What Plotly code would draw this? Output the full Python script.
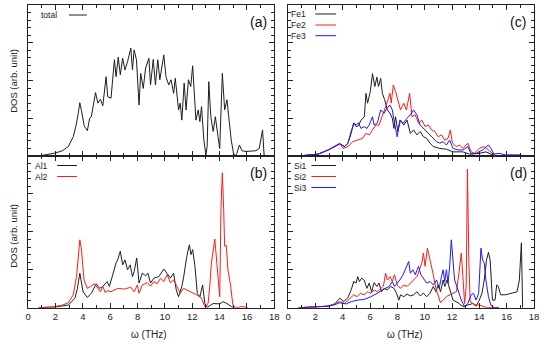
import plotly.graph_objects as go

# ---------------- data (frequency in THz, DOS in arb. units) ----------------
tot_x = [0.77, 1.5, 2.0, 2.5, 2.94, 3.3, 3.5, 3.65, 3.78, 3.9, 4.1, 4.33, 4.5, 4.62, 4.93, 5.10, 5.29, 5.46,
         5.70, 5.82, 6.06, 6.31, 6.43, 6.59, 6.74, 6.91, 7.08, 7.27, 7.51, 7.63, 7.75, 7.92, 8.11, 8.23, 8.42,
         8.59, 8.83, 8.95, 9.15, 9.31, 9.48, 9.63, 9.80, 9.92, 10.08, 10.28, 10.45, 10.64, 10.76, 11.0, 11.12,
         11.24, 11.41, 11.55, 11.72, 11.89, 12.03, 12.13, 12.27, 12.44, 12.56, 12.68, 12.85, 13.0, 13.09, 13.21,
         13.36, 13.53, 13.69, 13.89, 14.01, 14.2, 14.37, 14.54, 14.68, 14.85, 15.02, 15.16, 15.26, 15.45, 15.64,
         15.93, 16.66, 16.9, 17.14, 17.26]
tot_y = [0.0, 0.04, 0.08, 0.14, 0.25, 0.51, 0.8, 1.1, 1.41, 1.2, 0.8, 0.67, 1.0, 1.04, 1.68, 1.40, 1.50, 1.33,
         2.10, 1.57, 1.53, 2.55, 2.10, 2.62, 2.15, 2.59, 2.28, 2.50, 2.86, 2.28, 2.81, 2.55, 1.35, 2.19, 1.79,
         2.33, 2.59, 1.88, 2.56, 1.88, 2.55, 2.02, 2.39, 2.68, 2.10, 1.88, 2.02, 1.66, 2.06, 1.22, 1.40,
         0.95, 1.93, 1.22, 2.02, 1.84, 2.39, 1.84, 0.95, 1.22, 0.91, 1.31, 0.42, 0.03, 0.25, 1.97,
         1.04, 0.65, 1.04, 0.50, 0.20, 2.19, 1.22, 1.49, 1.04, 0.42, 0.07, 0.0, 0.07, 0.29, 0.14,
         0.12, 0.14, 0.2, 0.69, 0.0]

al1_x = [0.77, 2.0, 2.94, 3.42, 3.6, 3.78, 4.02, 4.33, 4.62, 4.98, 5.22, 5.46, 5.78, 5.94, 6.19, 6.43, 6.55, 6.74,
         6.91, 7.08, 7.27, 7.46, 7.63, 7.75, 7.94, 8.11, 8.35, 8.59, 8.76, 8.95, 9.2, 9.56, 9.92, 10.16, 10.4,
         10.64, 10.83, 11.0, 11.24, 11.36, 11.6, 11.79, 11.91, 12.03, 12.2, 12.37, 12.56, 12.76, 12.92, 13.09,
         13.53, 14.01, 14.25, 14.54, 14.85, 15.09]
al1_y = [0.0, 0.02, 0.07, 0.25, 0.5, 0.91, 0.42, 0.27, 0.38, 0.63, 0.51, 0.56, 0.69, 0.56, 0.87, 1.18, 1.26, 1.49,
         1.13, 1.26, 1.0, 1.13, 0.82, 0.95, 1.31, 0.65, 0.91, 0.84, 0.91, 0.65, 0.78, 0.82, 1.02, 0.91, 0.78,
         0.91, 0.47, 0.29, 0.56, 0.78, 1.35, 1.66, 1.4, 1.53, 1.09, 0.38, 0.29, 0.6, 0.11, 0.01,
         0.11, 0.1, 0.16, 0.11, 0.03, 0.0]

al2_x = [0.77, 1.73, 2.46, 2.94, 3.30, 3.54, 3.78, 3.9, 4.09, 4.33, 4.57, 4.86, 5.1, 5.29, 5.46, 5.63, 5.82, 6.06,
         6.55, 7.03, 7.51, 7.75, 7.99, 8.11, 8.35, 8.71, 8.95, 9.2, 9.44, 9.68, 9.92, 10.16, 10.4, 10.64, 10.88,
         11.12, 11.36, 11.6, 11.96, 12.32, 12.68, 12.92, 13.04, 13.16, 13.28, 13.4, 13.65, 13.77, 13.89, 14.01,
         14.1, 14.2, 14.3, 14.37, 14.49, 14.61, 14.8, 14.97, 15.21, 15.69, 16.05]
al2_y = [0.0, 0.02, 0.06, 0.13, 0.34, 0.82, 1.79, 1.53, 0.73, 0.51, 0.56, 0.63, 0.51, 0.42, 0.57, 0.40, 0.45, 0.42,
         0.51, 0.49, 0.54, 0.42, 0.6, 0.38, 0.6, 0.66, 0.57, 0.69, 0.63, 0.78, 0.69, 0.87, 0.66, 0.73, 0.56,
         0.38, 0.51, 0.47, 0.42, 0.34, 0.25, 0.03, 0.05, 0.12, 0.56, 1.18, 1.81, 1.35, 0.91, 0.29,
         2.59, 3.56, 2.59, 1.62, 1.64, 1.0, 0.6, 0.07, 0.0, 0.03, 0.0]

fe1_x = [0.77, 2.21, 2.94, 3.78, 4.14, 4.38, 4.62, 4.81, 4.98, 5.15, 5.34, 5.58, 5.7, 5.82, 6.02, 6.18, 6.35, 6.5,
         6.62, 6.78, 6.9, 7.07, 7.27, 7.46, 7.63, 7.75, 7.87, 8.03, 8.23, 8.47, 8.71, 8.95, 9.19, 9.43, 9.67,
         9.91, 10.15, 10.39, 10.63, 11.11, 11.59, 12.07, 12.8, 13.28, 14.0, 14.48, 14.96, 15.44, 17.1]
fe1_y = [0.0, 0.05, 0.16, 0.32, 0.25, 0.34, 0.65, 0.87, 0.78, 0.8, 0.95, 1.04, 1.66, 1.4, 1.71, 2.18, 1.84, 2.09,
         1.84, 2.06, 1.66, 1.49, 1.22, 1.13, 1.0, 0.73, 1.04, 0.65, 0.95, 0.82, 0.95, 0.6, 0.69, 0.56, 0.65,
         0.51, 0.47, 0.34, 0.25, 0.2, 0.18, 0.11, 0.11, 0.05, 0.07, 0.11, 0.03, 0.0, 0.0]

fe2_x = [0.77, 2.21, 2.94, 3.78, 4.02, 4.38, 4.74, 5.1, 5.46, 5.7, 5.94, 6.18, 6.42, 6.66, 6.9, 7.14, 7.31, 7.46,
         7.55, 7.7, 7.87, 8.03, 8.23, 8.47, 8.66, 8.9, 9.07, 9.31, 9.55, 9.79, 10.03, 10.27, 10.51, 10.75, 10.99,
         11.23, 11.47, 11.71, 11.88, 12.03, 12.32, 12.56, 12.8, 13.16, 13.4, 13.64, 14.0, 14.36, 14.67, 14.96,
         15.2]
fe2_y = [0.0, 0.05, 0.16, 0.34, 0.2, 0.25, 0.38, 0.42, 0.47, 0.6, 0.56, 0.69, 0.82, 0.82, 1.04, 1.31, 1.49, 1.66,
         1.4, 1.88, 1.71, 1.49, 1.22, 1.4, 1.22, 1.66, 1.04, 1.09, 0.87, 0.95, 0.78, 0.82, 0.69, 0.65, 0.51,
         0.56, 0.42, 0.47, 0.69, 0.34, 0.25, 0.29, 0.2, 0.34, 0.11, 0.07, 0.2, 0.25, 0.16, 0.05,
         0.0]

fe3_x = [0.77, 2.21, 2.94, 3.78, 4.14, 4.38, 4.62, 4.81, 4.98, 5.15, 5.34, 5.58, 5.77, 5.94, 6.18, 6.3, 6.54, 6.78,
         7.02, 7.22, 7.46, 7.63, 7.79, 7.99, 8.18, 8.42, 8.71, 8.95, 9.19, 9.43, 9.67, 9.91, 10.15, 10.39, 10.63,
         10.87, 11.11, 11.35, 11.59, 11.83, 12.07, 12.44, 12.8, 13.16, 13.4, 13.76, 14.24, 14.67, 14.84, 15.08,
         15.44, 15.92, 17.1]
fe3_y = [0.0, 0.05, 0.16, 0.32, 0.25, 0.34, 0.6, 0.88, 0.82, 0.88, 0.73, 0.78, 0.73, 0.82, 1.04, 0.82, 0.88, 1.22,
         1.13, 1.26, 1.35, 1.22, 0.87, 0.51, 0.95, 0.87, 1.0, 1.09, 1.22, 1.09, 0.82, 0.73, 0.65, 0.56, 0.47,
         0.38, 0.34, 0.38, 0.29, 0.42, 0.2, 0.16, 0.16, 0.25, 0.05, 0.07, 0.16, 0.29, 0.2, 0.05,
         0.07, 0.03, 0.03]

si1_x = [0.77, 2.0, 2.94, 3.42, 3.78, 4.09, 4.38, 4.62, 4.81, 4.98, 5.1, 5.22, 5.39, 5.58, 5.77, 5.94, 6.11, 6.3,
         6.5, 6.66, 6.83, 7.02, 7.27, 7.51, 7.75, 7.94, 8.11, 8.23, 8.47, 8.71, 8.95, 9.19, 9.43, 9.67, 9.91,
         10.15, 10.39, 10.63, 10.82, 10.99, 11.16, 11.35, 11.47, 11.64, 11.83, 12.07, 12.44, 12.8, 13.16, 13.52,
         13.76, 14.0, 14.19, 14.36, 14.53, 14.67, 14.79, 14.96, 15.15, 15.27, 15.39, 15.56, 15.92, 16.4, 16.76,
         16.93, 17.08, 17.17]
si1_y = [0.0, 0.02, 0.04, 0.1, 0.25, 0.16, 0.27, 0.47, 0.69, 0.65, 0.82, 0.69, 0.78, 0.72, 0.51, 0.65, 0.42, 0.66,
         0.56, 0.65, 0.42, 0.51, 0.47, 0.56, 0.51, 0.38, 0.2, 0.34, 0.29, 0.36, 0.31, 0.34, 0.42, 0.31, 0.38,
         0.29, 0.38, 0.56, 0.42, 0.6, 0.42, 0.73, 0.56, 0.73, 0.47, 0.2, 0.13, 0.03, 0.07, 0.11,
         0.04, 0.2, 0.38, 0.73, 1.26, 1.46, 1.26, 0.2, 0.2, 0.6, 0.56, 0.34, 0.34, 0.38, 0.42,
         0.73, 1.71, 0.0]

si2_x = [0.77, 2.0, 2.94, 3.42, 3.78, 4.14, 4.5, 4.81, 5.05, 5.29, 5.58, 5.82, 6.06, 6.3, 6.54, 6.78, 6.98, 7.14,
         7.27, 7.46, 7.63, 7.79, 7.99, 8.23, 8.47, 8.71, 8.95, 9.19, 9.43, 9.62, 9.79, 9.91, 10.03, 10.2, 10.34,
         10.51, 10.63, 10.82, 10.99, 11.16, 11.35, 11.59, 11.83, 12.07, 12.32, 12.51, 12.68, 12.8, 12.92, 13.04,
         13.13, 13.23, 13.33, 13.52, 13.76, 14.0, 14.24, 14.48, 15.44]
si2_y = [0.0, 0.02, 0.04, 0.1, 0.16, 0.11, 0.22, 0.34, 0.29, 0.38, 0.34, 0.42, 0.38, 0.47, 0.42, 0.51, 0.57, 0.91,
         0.73, 0.82, 0.69, 0.87, 0.6, 0.51, 0.6, 0.56, 0.65, 0.73, 0.82, 1.0, 1.18, 1.44, 1.09, 1.57, 1.35,
         1.09, 0.87, 0.51, 0.29, 0.13, 0.2, 0.29, 0.34, 0.38, 0.42, 0.91, 1.44, 0.82, 0.11, 0.56,
         3.65, 1.26, 0.16, 0.11, 0.07, 0.07, 0.03, 0.01, 0.0]

si3_x = [0.77, 2.0, 2.94, 3.42, 3.78, 4.26, 4.62, 5.1, 5.58, 6.06, 6.54, 6.9, 7.14, 7.39, 7.63, 7.79, 7.99, 8.18,
         8.42, 8.66, 8.83, 8.95, 9.14, 9.31, 9.55, 9.72, 9.91, 10.15, 10.39, 10.63, 10.87, 11.06, 11.23, 11.35,
         11.47, 11.59, 11.71, 11.83, 11.95, 12.07, 12.19, 12.32, 12.51, 12.68, 12.92, 13.16, 13.4, 13.57, 13.76,
         13.95, 14.12, 14.24, 14.36, 14.48, 14.67, 14.84, 15.08, 15.44]
si3_y = [0.0, 0.02, 0.04, 0.08, 0.13, 0.1, 0.16, 0.2, 0.22, 0.29, 0.38, 0.47, 0.51, 0.56, 0.69, 0.56, 0.65, 0.73,
         0.87, 1.09, 1.22, 0.91, 1.0, 0.87, 1.09, 0.87, 0.78, 0.65, 0.69, 0.6, 0.73, 0.51, 0.82, 1.0,
         0.69, 1.0, 0.65, 1.09, 1.79, 1.26, 0.73, 0.6, 0.38, 0.2, 0.03, 0.11, 0.34, 0.38, 0.2,
         0.38, 1.57, 1.26, 1.18, 0.73, 0.29, 0.07, 0.0, 0.0]

x_ticks = [0, 2, 4, 6, 8, 10, 12, 14, 16, 18]
panel_labels = ["(a)", "(b)", "(c)", "(d)"]

# ---------------- figure ----------------
W, H = 550, 346
BLACK, RED, BLUE = "#1e1e1e", "#ff1a1a", "#1a1aff"
FONT = "Liberation Sans, Arial, sans-serif"

def px(xp):
    return xp / W

def py(yp):
    return 1 - yp / H

xdom_l = [px(25.5), px(275.3)]
xdom_r = [px(289.3), px(538.8)]
ydom_t = [py(156), py(5)]
ydom_b = [py(307.7), py(156)]

fig = go.Figure()

series = [
    (tot_x, tot_y, BLACK, "x", "y"),
    (fe1_x, fe1_y, BLACK, "x2", "y2"),
    (fe2_x, fe2_y, RED, "x2", "y2"),
    (fe3_x, fe3_y, BLUE, "x2", "y2"),
    (al1_x, al1_y, BLACK, "x3", "y3"),
    (al2_x, al2_y, RED, "x3", "y3"),
    (si1_x, si1_y, BLACK, "x4", "y4"),
    (si2_x, si2_y, RED, "x4", "y4"),
    (si3_x, si3_y, BLUE, "x4", "y4"),
]
for xs, ys, col, xa, ya in series:
    fig.add_trace(go.Scatter(x=xs, y=ys, mode="lines", line=dict(color=col, width=1),
                             xaxis=xa, yaxis=ya, showlegend=False, hoverinfo="skip"))

def xaxis(dom, anchor, labels):
    return dict(domain=dom, anchor=anchor, range=[0, 18], tickvals=x_ticks,
                showticklabels=labels, ticks="inside", ticklen=5, tickwidth=1, tickcolor="#222",
                minor=dict(dtick=1, tick0=0, ticks="inside", ticklen=3, tickcolor="#222"),
                showline=True, linecolor="#222", linewidth=1, mirror="ticks",
                showgrid=False, zeroline=False,
                tickfont=dict(family=FONT, size=9.5, color="#222"))

def yaxis(dom, anchor):
    return dict(domain=dom, anchor=anchor, range=[0, 4], dtick=1, tick0=0,
                showticklabels=False, ticks="inside", ticklen=5, tickwidth=1, tickcolor="#222",
                minor=dict(dtick=0.2, tick0=0, ticks="inside", ticklen=3, tickcolor="#222"),
                showline=True, linecolor="#222", linewidth=1, mirror="ticks",
                showgrid=False, zeroline=False)

fig.update_layout(
    width=W, height=H, margin=dict(l=0, r=0, t=0, b=0),
    paper_bgcolor="white", plot_bgcolor="white",
    font=dict(family=FONT, color="#222"),
    xaxis=xaxis(xdom_l, "y", False), yaxis=yaxis(ydom_t, "x"),
    xaxis2=xaxis(xdom_r, "y2", False), yaxis2=yaxis(ydom_t, "x2"),
    xaxis3=xaxis(xdom_l, "y3", True), yaxis3=yaxis(ydom_b, "x3"),
    xaxis4=xaxis(xdom_r, "y4", True), yaxis4=yaxis(ydom_b, "x4"),
)

ann = []
shapes = []
# panel labels
for lab, (xp, yp) in zip(panel_labels, [(259, 22), (259, 173), (523, 22), (523, 173)]):
    ann.append(dict(text=lab, x=px(xp), y=py(yp), xref="paper", yref="paper", showarrow=False,
                    xanchor="center", yanchor="middle",
                    font=dict(family=FONT, size=14, color="#111")))

# axis titles
for yp in (81, 236):
    ann.append(dict(text="DOS (arb. unit)", x=px(10), y=py(yp), xref="paper", yref="paper",
                    showarrow=False, textangle=-90, xanchor="center", yanchor="middle",
                    font=dict(family=FONT, size=9.5, color="#222")))
for xp in (148, 408):
    ann.append(dict(text="ω (THz)", x=px(xp), y=py(334), xref="paper", yref="paper",
                    showarrow=False, xanchor="center", yanchor="middle",
                    font=dict(family=FONT, size=10, color="#222")))

# keys (gnuplot style: label then line sample)
keys = [
    ("total", BLACK, 56, 15, 67, 85),
    ("Al1", BLACK, 46.5, 165.5, 55, 75),
    ("Al2", RED, 46.5, 176.5, 55, 75),
    ("Fe1", BLACK, 308, 14, 317, 338),
    ("Fe2", RED, 308, 25, 317, 338),
    ("Fe3", BLUE, 308, 35.7, 317, 338),
    ("Si1", BLACK, 309, 165.5, 313, 338),
    ("Si2", RED, 309, 176.5, 313, 338),
    ("Si3", BLUE, 309, 187.5, 313, 338),
]
for text, col, xr, yc, x0, x1 in keys:
    ann.append(dict(text=text, x=px(xr), y=py(yc), xref="paper", yref="paper", showarrow=False,
                    xanchor="right", yanchor="middle", borderpad=0,
                    font=dict(family=FONT, size=8.5, color="#222")))
    shapes.append(dict(type="line", xref="paper", yref="paper", x0=px(x0), x1=px(x1),
                       y0=py(yc), y1=py(yc), line=dict(color=col, width=1)))

fig.update_layout(annotations=ann, shapes=shapes)
fig.write_html("out.html", config={"displayModeBar": False},
               post_script="document.body.style.margin='0px';document.body.style.overflow='hidden';")
